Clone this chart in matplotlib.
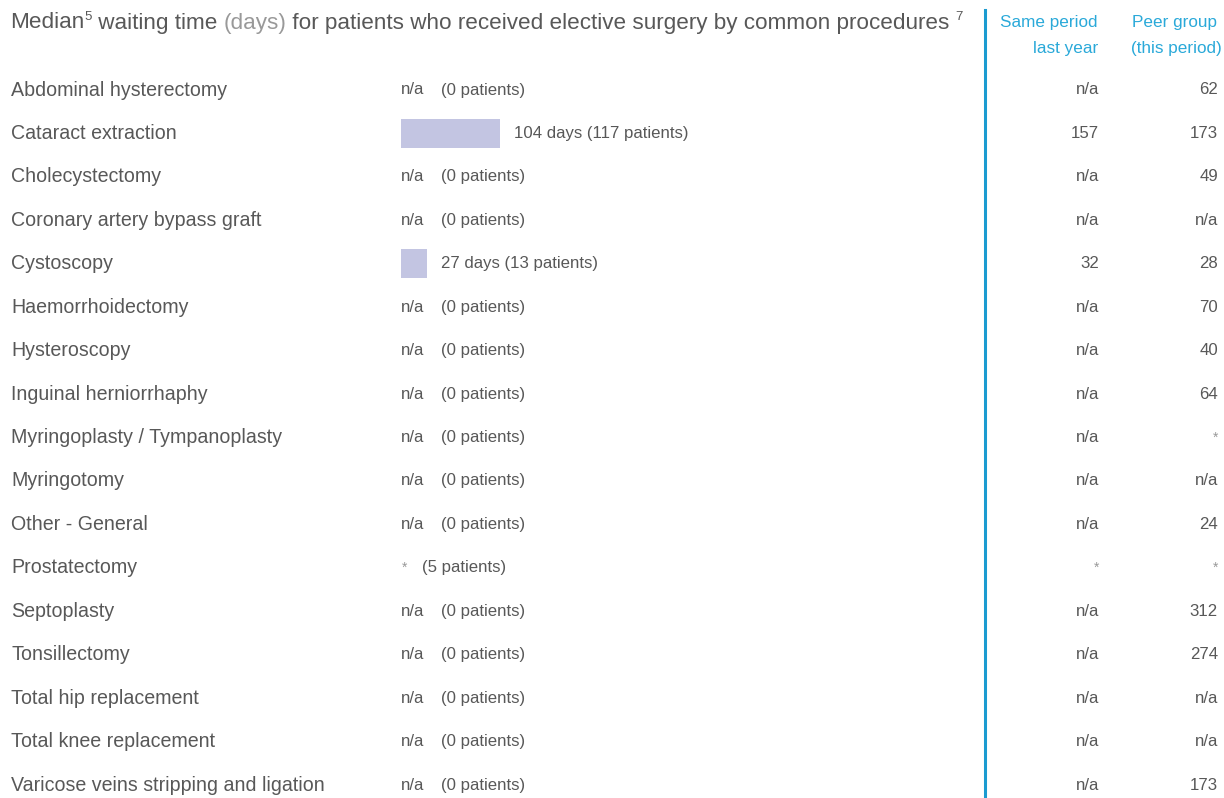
import numpy as np
import matplotlib.pyplot as plt
from matplotlib.transforms import blended_transform_factory

plt.rcParams['font.family'] = ['Liberation Sans', 'DejaVu Sans']

procedures = ['Abdominal hysterectomy', 'Cataract extraction', 'Cholecystectomy',
              'Coronary artery bypass graft', 'Cystoscopy', 'Haemorrhoidectomy',
              'Hysteroscopy', 'Inguinal herniorrhaphy', 'Myringoplasty / Tympanoplasty',
              'Myringotomy', 'Other - General', 'Prostatectomy', 'Septoplasty',
              'Tonsillectomy', 'Total hip replacement', 'Total knee replacement',
              'Varicose veins stripping and ligation']
# None = n/a, '*' = suppressed
median_days = [None, 104, None, None, 27, None, None, None, None, None, None, '*',
               None, None, None, None, None]
patients = [0, 117, 0, 0, 13, 0, 0, 0, 0, 0, 0, 5, 0, 0, 0, 0, 0]
last_year = ['n/a', '157', 'n/a', 'n/a', '32', 'n/a', 'n/a', 'n/a', 'n/a', 'n/a',
             'n/a', '*', 'n/a', 'n/a', 'n/a', 'n/a', 'n/a']
peer_group = ['62', '173', '49', 'n/a', '28', '70', '40', '64', '*', 'n/a', '24', '*',
              '312', '274', 'n/a', 'n/a', '173']

W, H = 1224, 798
DARK = '#585858'
LIGHT = '#999999'
BLUE = '#1b9bd0'
HEAD = '#2aa9d9'
BAR = '#c3c5e2'
LBL, DAT, TTL = 14.1, 12.1, 16.2

fig = plt.figure(figsize=(W / 100, H / 100), dpi=100)
fig.patch.set_facecolor('white')

# bar axes: starts at x=401px, ~0.955 px per day
px_per_day = 0.955
ax_left, ax_w = 401, 560
ax = fig.add_axes([ax_left / W, 0, ax_w / W, 1])
ax.set_xlim(0, ax_w / px_per_day)
row0, step = 90, 43.44
ax.set_ylim((H - row0) / step, -row0 / step)
ax.axis('off')

n = len(procedures)
y = np.arange(n)
vals = [v if isinstance(v, (int, float)) else 0 for v in median_days]
ax.barh(y, vals, height=0.67, left=0, color=BAR)

tr = blended_transform_factory(fig.transFigure, ax.transData)
fx = lambda px: px / W

for i in range(n):
    ax.text(fx(11), i, procedures[i], transform=tr, fontsize=LBL, color=DARK,
            va='center', ha='left')
    v = median_days[i]
    if v is None:
        ax.text(fx(401), i, 'n/a', transform=tr, fontsize=DAT, color=DARK, va='center')
        ax.text(fx(441), i, f'({patients[i]} patients)', transform=tr, fontsize=DAT,
                color=DARK, va='center')
    elif v == '*':
        ax.text(fx(402), i, '*', transform=tr, fontsize=10, color=LIGHT, va='center')
        ax.text(fx(422), i, f'({patients[i]} patients)', transform=tr, fontsize=DAT,
                color=DARK, va='center')
    else:
        ax.text(v + 14 / px_per_day, i, f'{v} days ({patients[i]} patients)',
                fontsize=DAT, color=DARK, va='center')
    for col_x, s in [(1099, last_year[i]), (1218, peer_group[i])]:
        if s == '*':
            ax.text(fx(col_x), i, s, transform=tr, fontsize=10, color=LIGHT,
                    va='center', ha='right')
        else:
            ax.text(fx(col_x), i, s, transform=tr, fontsize=DAT, color=DARK,
                    va='center', ha='right')

# separator line
fig.add_artist(plt.Line2D([fx(985), fx(985)], [0, 1 - 10 / H], color=BLUE, lw=2.2))

# column headers
fig.text(fx(1098), 1 - 23 / H, 'Same period', fontsize=12.3, color=HEAD, ha='right', va='center')
fig.text(fx(1098), 1 - 48 / H, 'last year', fontsize=12.3, color=HEAD, ha='right', va='center')
fig.text(fx(1217), 1 - 23 / H, 'Peer group', fontsize=12.3, color=HEAD, ha='right', va='center')
fig.text(fx(1222), 1 - 48 / H, '(this period)', fontsize=12.3, color=HEAD, ha='right', va='center')

# title built from pieces
renderer = fig.canvas.get_renderer()
pieces = [('Median', TTL, DARK, 0), ('5', 9.5, DARK, 6), (' waiting time ', TTL, DARK, 0),
          ('(days)', TTL, LIGHT, 0),
          (' for patients who received elective surgery by common procedures ', TTL, DARK, 0),
          ('7', 9.5, DARK, 6)]
x = 10
for s, size, c, dy in pieces:
    t = fig.text(fx(x), 1 - (23 - dy) / H, s, fontsize=size, color=c, ha='left', va='center')
    x += t.get_window_extent(renderer).width

fig.savefig('out.png', dpi=100, facecolor='white')
